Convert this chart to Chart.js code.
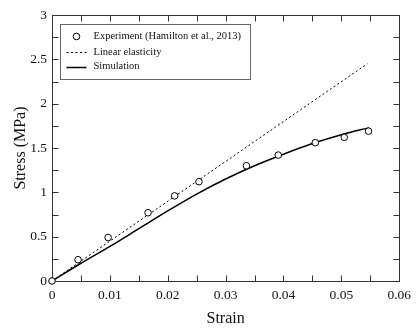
<!DOCTYPE html>
<html>
<head>
<meta charset="utf-8">
<script src="https://cdn.jsdelivr.net/npm/chart.js@4.4.1/dist/chart.umd.min.js"></script>
<style>
  html, body { margin: 0; padding: 0; background: #fff; }
  #wrap { width: 417px; height: 332px; }
</style>
</head>
<body>
<div id="wrap"><canvas id="stressChart"></canvas></div>
<script>
// Stress-strain data
const strainExp = [0, 0.0045, 0.0097, 0.0166, 0.0212, 0.0254, 0.0336, 0.0391, 0.0455, 0.0505, 0.0547];
const stressExp = [0, 0.24, 0.49, 0.77, 0.96, 1.12, 1.30, 1.42, 1.56, 1.62, 1.69];
const strainLin = [0, 0.0545];
const stressLin = [0, 2.45];
const strainSim = [0, 0.005, 0.01, 0.015, 0.02, 0.025, 0.03, 0.035, 0.04, 0.045, 0.05, 0.0548];
const stressSim = [0, 0.2, 0.39, 0.59, 0.79, 0.98, 1.15, 1.30, 1.43, 1.55, 1.65, 1.73];
const labels = ['Experiment (Hamilton et al., 2013)', 'Linear elasticity', 'Simulation'];

const serif = "'Liberation Serif', 'Times New Roman', serif";
const toPoints = (xs, ys) => xs.map((x, i) => ({ x: x, y: ys[i] }));

// frame with inward ticks on all four sides, plus a boxed legend
const framePlugin = {
  id: 'frame',
  beforeDatasetsDraw(chart) {
    const { ctx, chartArea: a, scales } = chart;
    const L = Math.round(a.left) + 0.5, R = Math.round(a.right) + 0.5;
    const T = Math.round(a.top) + 0.5, B = Math.round(a.bottom) + 0.5;
    ctx.save();
    ctx.strokeStyle = '#333';
    ctx.lineWidth = 1;
    ctx.strokeRect(L, T, R - L, B - T);
    ctx.beginPath();
    scales.x.ticks.forEach(t => {
      const px = Math.round(scales.x.getPixelForValue(t.value)) + 0.5;
      ctx.moveTo(px, B); ctx.lineTo(px, B - 6);
      ctx.moveTo(px, T); ctx.lineTo(px, T + 6);
    });
    scales.y.ticks.forEach(t => {
      const py = Math.round(scales.y.getPixelForValue(t.value)) + 0.5;
      ctx.moveTo(L, py); ctx.lineTo(L + 6, py);
      ctx.moveTo(R, py); ctx.lineTo(R - 6, py);
    });
    ctx.stroke();

    // legend
    const bx = L + 8, by = T + 9, bw = 190, bh = 55;
    ctx.fillStyle = '#fff';
    ctx.fillRect(bx, by, bw, bh);
    ctx.strokeStyle = '#666';
    ctx.strokeRect(bx, by, bw, bh);
    ctx.font = '10.5px ' + serif;
    ctx.textBaseline = 'middle';
    const rows = [by + 12, by + 27.5, by + 42];
    chart.data.datasets.forEach((d, i) => {
      const y = rows[i];
      ctx.strokeStyle = '#000';
      ctx.lineWidth = d.borderWidth;
      if (d.showLine === false) {
        ctx.beginPath();
        ctx.arc(bx + 16, y, 3.3, 0, Math.PI * 2);
        ctx.fillStyle = '#fff';
        ctx.fill();
        ctx.stroke();
      } else {
        ctx.setLineDash(d.borderDash || []);
        ctx.beginPath();
        ctx.moveTo(bx + 6, Math.round(y) + 0.5);
        ctx.lineTo(bx + 26, Math.round(y) + 0.5);
        ctx.stroke();
        ctx.setLineDash([]);
      }
      ctx.fillStyle = '#111';
      ctx.fillText(d.label, bx + 33, y);
    });
    ctx.restore();
  }
};

new Chart(document.getElementById('stressChart'), {
  type: 'line',
  data: {
    datasets: [
      {
        label: labels[0],
        data: toPoints(strainExp, stressExp),
        showLine: false,
        pointRadius: 3.3,
        pointBackgroundColor: '#fff',
        pointBorderColor: '#000',
        borderColor: '#000',
        borderWidth: 1,
        pointBorderWidth: 1,
        clip: false,
        order: 0
      },
      {
        label: labels[1],
        data: toPoints(strainLin, stressLin),
        borderColor: '#000',
        borderWidth: 1,
        borderDash: [2, 2.5],
        pointRadius: 0,
        order: 2
      },
      {
        label: labels[2],
        data: toPoints(strainSim, stressSim),
        borderColor: '#000',
        borderWidth: 1.5,
        pointRadius: 0,
        tension: 0.3,
        order: 1
      }
    ]
  },
  options: {
    responsive: true,
    maintainAspectRatio: false,
    animation: false,
    layout: { padding: { top: 15, right: 17, left: 0, bottom: 0 } },
    plugins: {
      legend: { display: false },
      tooltip: { enabled: false }
    },
    scales: {
      x: {
        type: 'linear',
        min: 0,
        max: 0.06,
        afterFit: s => { s.height = 51; },
        border: { display: false },
        grid: { display: false, drawTicks: false },
        ticks: {
          stepSize: 0.005,
          padding: 6,
          color: '#111',
          font: { family: serif, size: 13.5 },
          maxRotation: 0,
          autoSkip: false,
          callback: (v, i) => (i % 2 === 0 ? String(+(v).toFixed(2)) : '')
        },
        title: {
          display: true,
          text: 'Strain',
          color: '#111',
          font: { family: serif, size: 16 },
          padding: { top: 0, bottom: 4 }
        }
      },
      y: {
        type: 'linear',
        min: 0,
        max: 3,
        afterFit: s => { s.width = 52; },
        border: { display: false },
        grid: { display: false, drawTicks: false },
        ticks: {
          stepSize: 0.25,
          padding: 5,
          color: '#111',
          font: { family: serif, size: 13.5 },
          autoSkip: false,
          callback: (v, i) => (i % 2 === 0 ? String(+(v).toFixed(2)) : '')
        },
        title: {
          display: true,
          text: 'Stress (MPa)',
          color: '#111',
          font: { family: serif, size: 16 },
          padding: { top: 11, bottom: 0 }
        }
      }
    }
  },
  plugins: [framePlugin]
});
</script>
</body>
</html>
